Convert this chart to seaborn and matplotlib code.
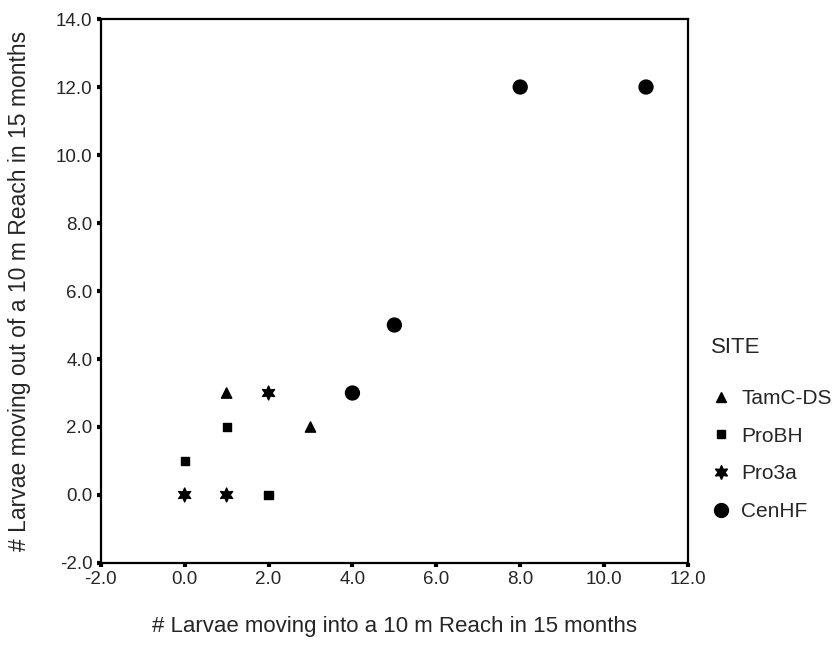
import matplotlib
matplotlib.use("Agg")
import matplotlib.pyplot as plt
import seaborn as sns
import pandas as pd

sns.set_theme(style="white")
plt.rcParams['font.family'] = ['Liberation Sans', 'DejaVu Sans']

sites = ["TamC-DS", "ProBH", "Pro3a", "CenHF"]
tamc_x = [1, 3]
tamc_y = [3, 2]
probh_x = [0, 1, 2]
probh_y = [1, 2, 0]
pro3a_x = [0, 1, 2]
pro3a_y = [0, 0, 3]
cenhf_x = [4, 5, 8, 11]
cenhf_y = [3, 5, 12, 12]
ticks = [-2.0, 0.0, 2.0, 4.0, 6.0, 8.0, 10.0, 12.0]
yticks = [-2.0, 0.0, 2.0, 4.0, 6.0, 8.0, 10.0, 12.0, 14.0]

rows = []
for name, xs, ys in [("TamC-DS", tamc_x, tamc_y), ("ProBH", probh_x, probh_y),
                     ("Pro3a", pro3a_x, pro3a_y), ("CenHF", cenhf_x, cenhf_y)]:
    for x, y in zip(xs, ys):
        rows.append({"x": x, "y": y, "SITE": name})
df = pd.DataFrame(rows)

fig = plt.figure(figsize=(8.4, 6.65), dpi=100)
ax = fig.add_axes([0.120, 0.1534, 0.699, 0.818])

markers = {"TamC-DS": "^", "ProBH": "s", "Pro3a": (6, 1, 0), "CenHF": "o"}
sizes = {"TamC-DS": 55, "ProBH": 35, "Pro3a": 100, "CenHF": 100}
palette = {s: "black" for s in sites}

sns.scatterplot(data=df, x="x", y="y", hue="SITE", style="SITE", size="SITE",
                hue_order=sites, style_order=sites, size_order=sites,
                markers=markers, sizes=sizes, palette=palette,
                edgecolor="black", linewidth=1.0, ax=ax, legend="full")

ax.set_xlim(-2, 12)
ax.set_ylim(-2, 14)
ax.set_xticks(ticks)
ax.set_yticks(yticks)
ax.set_xticklabels([f"{t:.1f}" for t in ticks], fontsize=13.5)
ax.set_yticklabels([f"{t:.1f}" for t in yticks], fontsize=13.5)
ax.tick_params(axis="both", direction="out", length=3, width=3, color="black",
               bottom=True, left=True, pad=3)
for sp in ax.spines.values():
    sp.set_visible(True)
    sp.set_color("black")
    sp.set_linewidth(1.6)

ax.set_xlabel("# Larvae moving into a 10 m Reach in 15 months", fontsize=16, labelpad=20)
ax.set_ylabel("# Larvae moving out of a 10 m Reach in 15 months", fontsize=16.5, labelpad=18)

handles, labels = ax.get_legend_handles_labels()
hl = [(h, l) for h, l in zip(handles, labels) if l in sites]
leg = ax.legend([h for h, _ in hl], [l for _, l in hl], title="SITE",
                loc="upper left", bbox_to_anchor=(1.025, 0.43), frameon=False,
                fontsize=15, title_fontsize=16, labelspacing=0.9,
                handlelength=1.0, handletextpad=0.45, borderaxespad=0)
leg._legend_box.align = "left"
leg._legend_box.sep = 22

fig.savefig("out.png", dpi=100)
